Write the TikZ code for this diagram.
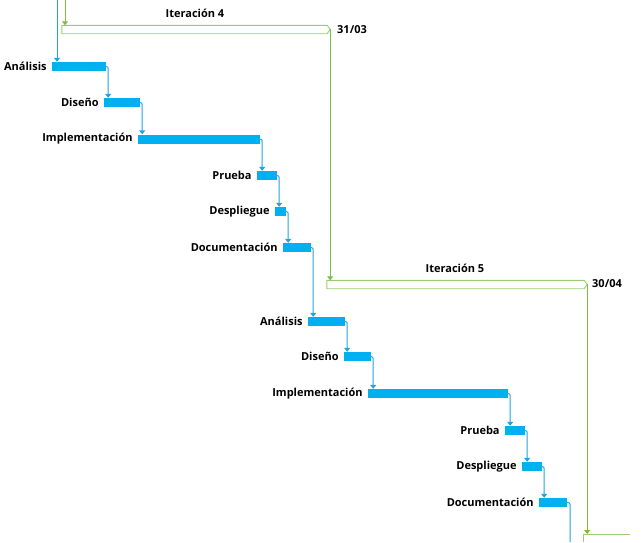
\documentclass[tikz,border=0pt]{standalone}
\usepackage{fontspec}
\setmainfont{Open Sans}
\usetikzlibrary{arrows.meta,calc}
\definecolor{barblue}{RGB}{0,176,240}
\definecolor{lineblue}{RGB}{30,165,225}
\definecolor{gline}{RGB}{122,190,70}
\definecolor{gbox}{RGB}{150,205,110}
\begin{document}
\begin{tikzpicture}[x=1pt,y=-1pt,
  taskbar/.style={fill=barblue,draw=none,inner sep=0pt,minimum height=9pt},
  lab/.style={inner sep=0pt,font=\bfseries\fontsize{11}{13}\selectfont,text=black},
  conn/.style={draw=lineblue,line width=1pt,rounded corners=2pt,-{Triangle[width=6pt,length=4pt]}},
  gconn/.style={draw=gline,line width=1pt,-{Triangle[width=6pt,length=4pt]}},
  sumbox/.style={draw=none,inner sep=0pt,minimum height=8pt},
  sumline/.style={draw=gbox,line width=0.9pt}]
\useasboundingbox (0,0) rectangle (642,542);

% summary bars
\node[sumbox,minimum width=268pt] (it4) at (196,29.5) {};
\node[sumbox,minimum width=260pt] (it5) at (457,284.5) {};
\draw[sumline] (it4.north west) -- ([xshift=-3pt]it4.north east) -- ([yshift=-4pt]it4.north east) -- ([xshift=-3pt]it4.south east) -- (it4.south west) -- cycle;
\draw[sumline] (it5.north west) -- ([xshift=-3pt]it5.north east) -- ([yshift=-4pt]it5.north east) -- ([xshift=-3pt]it5.south east) -- (it5.south west) -- cycle;
\coordinate (tip4) at ([yshift=-4pt]it4.north east);
\coordinate (tip5) at ([yshift=-4pt]it5.north east);
\coordinate (it6) at (583,534);
\draw[sumline] (583,542) -- (it6) -- (630,534);

\node[lab] (li4) at (195,13) {Iteración 4};
\node[lab,anchor=west] (dt4) at (337,29.5) {31/03};
\node[lab] (li5) at (455,268) {Iteración 5};
\node[lab,anchor=west] (dt5) at (592,283.5) {30/04};

% green connectors
\coordinate (g0) at (65,0);
\draw[gconn] (g0) -- (g0 |- it4.north);
\draw[gconn] (tip4) -- (tip4 |- it5.north);
\draw[gconn] (tip5) -- (tip5 |- it6);

% tasks, iteration 4
\node[taskbar,minimum width=54pt] (a1) at (79,66.5) {};
\node[taskbar,minimum width=36pt] (d1) at (122,102.5) {};
\node[taskbar,minimum width=122pt] (i1) at (199,139) {};
\node[taskbar,minimum width=20pt] (p1) at (267,175.5) {};
\node[taskbar,minimum width=11pt] (s1) at (280.5,211.5) {};
\node[taskbar,minimum width=28pt] (c1) at (297,247.5) {};
% tasks, iteration 5
\node[taskbar,minimum width=37pt] (a2) at (326.5,321.5) {};
\node[taskbar,minimum width=27pt] (d2) at (357.5,356.5) {};
\node[taskbar,minimum width=140pt] (i2) at (438,393.5) {};
\node[taskbar,minimum width=20pt] (p2) at (515,430.5) {};
\node[taskbar,minimum width=20pt] (s2) at (532,466.5) {};
\node[taskbar,minimum width=28pt] (c2) at (553,502.5) {};

% labels
\foreach \n/\t in {a1/Análisis,d1/Diseño,i1/Implementación,p1/Prueba,s1/Despliegue,c1/Documentación,
                   a2/Análisis,d2/Diseño,i2/Implementación,p2/Prueba,s2/Despliegue,c2/Documentación}
  \node[lab,anchor=east] (l\n) at ([xshift=-5pt]\n.west) {\t};

% blue connectors
\coordinate (b0) at (57,0);
\draw[conn] (b0) -- (b0 |- a1.north);
\foreach \a/\b in {a1/d1,d1/i1,i1/p1,p1/s1,s1/c1,c1/a2,a2/d2,d2/i2,i2/p2,p2/s2,s2/c2}{
  \coordinate (t\a) at ($(\a.east)+(2,0)$);
  \draw[conn] (\a.east) -| (t\a |- \b.north);
}
\coordinate (bend) at (570,542);
\draw[conn,-] (c2.east) -| (bend);
\end{tikzpicture}
\end{document}
